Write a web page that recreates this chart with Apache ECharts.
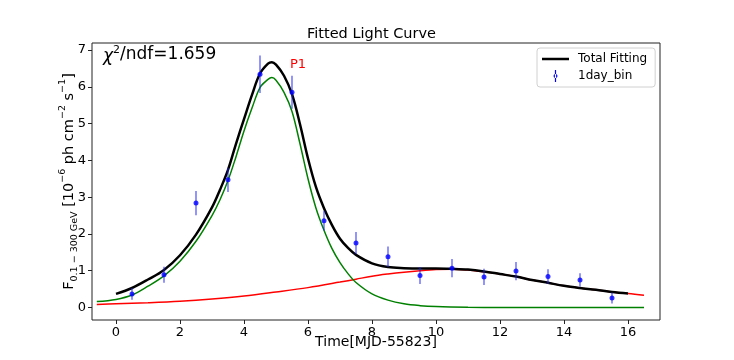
<!DOCTYPE html>
<html>
<head>
<meta charset="utf-8">
<script src="https://cdn.jsdelivr.net/npm/echarts@6/dist/echarts.min.js"></script>
<style>
  html, body { margin: 0; padding: 0; background: #fff; }
  #chart { width: 734px; height: 360px; }
</style>
</head>
<body>
<div id="chart"></div>
<script>
// 1-day binned flux points
const binTime = [0.5, 1.5, 2.5, 3.5, 4.5, 5.5, 6.5, 7.5, 8.5, 9.5, 10.5, 11.5, 12.5, 13.5, 14.5, 15.5]
const binFlux = [0.37, 0.89, 2.84, 3.47, 6.34, 5.85, 2.36, 1.75, 1.38, 0.87, 1.07, 0.83, 0.99, 0.84, 0.75, 0.26]
const binErr = [0.16, 0.22, 0.33, 0.33, 0.51, 0.45, 0.27, 0.30, 0.28, 0.23, 0.25, 0.22, 0.25, 0.20, 0.18, 0.15]

// total fitting (black)
const totalTime = [0, 0.5, 1, 1.5, 2, 2.5, 3, 3.25, 3.5, 3.75, 4, 4.25, 4.5, 4.75, 4.87, 5, 5.25, 5.5, 5.75, 6, 6.25, 6.5, 6.75, 7, 7.25, 7.5, 8, 8.5, 9, 9.5, 10, 10.5, 11, 11.5, 12, 12.5, 13, 13.5, 14, 14.5, 15, 15.5, 16]
const totalFlux = [0.37, 0.53, 0.76, 1.02, 1.42, 1.98, 2.72, 3.2, 3.74, 4.45, 5.12, 5.78, 6.36, 6.63, 6.67, 6.6, 6.3, 5.8, 4.98, 4.05, 3.27, 2.7, 2.24, 1.87, 1.62, 1.43, 1.2, 1.1, 1.07, 1.06, 1.06, 1.05, 1.03, 0.98, 0.91, 0.84, 0.75, 0.67, 0.59, 0.53, 0.48, 0.42, 0.38]

// flare component P1 (green)
const p1Time = [-0.6, 0, 0.5, 1, 1.5, 2, 2.5, 3, 3.25, 3.5, 3.75, 4, 4.25, 4.5, 4.75, 4.87, 5, 5.25, 5.5, 5.75, 6, 6.25, 6.5, 6.75, 7, 7.25, 7.5, 8, 8.5, 9, 9.5, 10, 11, 12, 13, 14, 15, 16, 16.5]
const p1Flux = [0.16, 0.22, 0.34, 0.58, 0.86, 1.26, 1.8, 2.5, 2.93, 3.45, 4.1, 4.8, 5.42, 5.98, 6.2, 6.25, 6.18, 5.85, 5.33, 4.45, 3.5, 2.7, 2.1, 1.6, 1.22, 0.92, 0.68, 0.37, 0.2, 0.1, 0.05, 0.025, 0.006, 0.001, 0, 0, 0, 0, 0]

// slow component (red)
const slowTime = [-0.6, 0, 1, 2, 3, 4, 5, 6, 7, 7.5, 8, 8.5, 9, 9.5, 10, 10.5, 11, 11.5, 12, 12.5, 13, 13.5, 14, 14.5, 15, 15.5, 16, 16.5]
const slowFlux = [0.08, 0.10, 0.13, 0.17, 0.23, 0.31, 0.42, 0.54, 0.69, 0.77, 0.85, 0.91, 0.96, 1.0, 1.03, 1.04, 1.02, 0.97, 0.91, 0.84, 0.75, 0.67, 0.59, 0.53, 0.48, 0.42, 0.38, 0.33]

const font = 'DejaVu Sans'
const pair = (xs, ys) => xs.map((x, i) => [x, ys[i]])

const chart = echarts.init(document.getElementById('chart'))
const option = {
  backgroundColor: '#fff',
  animation: false,
  title: {
    text: 'Fitted Light Curve',
    left: 307,
    top: 27,
    padding: 0,
    textStyle: { fontFamily: font, fontSize: 14.5, fontWeight: 'normal', color: '#000' }
  },
  legend: {
    orient: 'vertical',
    left: 537,
    top: 48,
    padding: [5, 8, 5, 5],
    itemGap: 5,
    itemWidth: 27,
    itemHeight: 12,
    backgroundColor: '#fff',
    borderColor: '#d0d0d0',
    borderWidth: 1,
    borderRadius: 3,
    textStyle: { fontFamily: font, fontSize: 12, color: '#000', padding: [0, 0, 0, 4] },
    data: [
      { name: 'Total Fitting', icon: 'path://M0,0 L27,0 L27,2.5 L0,2.5 Z', itemStyle: { color: '#000' } },
      { name: '1day_bin', icon: 'path://M2.4,0 L3.6,0 L3.6,12 L2.4,12 Z M3,4 A2,2 0 1 0 3,8 A2,2 0 1 0 3,4 Z', itemStyle: { color: '#0000ff' } }
    ]
  },
  grid: {
    left: 92, right: 74, top: 43, bottom: 40,
    show: true, borderColor: '#222', borderWidth: 1,
    outerBoundsMode: 'none'
  },
  xAxis: {
    type: 'value',
    min: -0.75,
    max: 17,
    splitNumber: 9,
    name: 'Time[MJD-55823]',
    nameLocation: 'middle',
    nameGap: 15,
    nameMoveOverlap: false,
    nameTextStyle: { fontFamily: font, fontSize: 14, color: '#000' },
    axisLine: { show: false, onZero: false },
    axisTick: { show: true, inside: false, length: 4, lineStyle: { color: '#222' } },
    axisLabel: { showMinLabel: false, showMaxLabel: false, fontFamily: font, fontSize: 13, color: '#000', margin: 6 },
    splitLine: { show: false }
  },
  yAxis: {
    type: 'value',
    min: -0.34,
    max: 7.19,
    splitNumber: 7,
    name: 'F{sub|0.1 − 300 GeV} [10{sup|−6} ph cm{sup|−2} s{sup|−1}]',
    nameLocation: 'middle',
    nameRotate: 90,
    nameGap: 12,
    nameMoveOverlap: false,
    nameTextStyle: {
      fontFamily: font, fontSize: 14.5, color: '#000', lineHeight: 22,
      rich: {
        sub: { fontFamily: font, fontSize: 9.5, color: '#000', verticalAlign: 'bottom', lineHeight: 12 },
        sup: { fontFamily: font, fontSize: 9.5, color: '#000', verticalAlign: 'top', lineHeight: 12 }
      }
    },
    axisLine: { show: false, onZero: false },
    axisTick: { show: true, inside: false, length: 4, lineStyle: { color: '#222' } },
    axisLabel: { showMinLabel: false, showMaxLabel: false, fontFamily: font, fontSize: 13, color: '#000', margin: 6 },
    splitLine: { show: false }
  },
  graphic: [
    {
      type: 'text',
      left: 103,
      top: 45,
      style: {
        text: '{chi|χ}{sup|2}/ndf=1.659',
        fontFamily: font, fontSize: 17, fill: '#000',
        rich: {
          chi: { fontFamily: font, fontSize: 17, fontStyle: 'italic', lineHeight: 20, verticalAlign: 'bottom' },
          sup: { fontFamily: font, fontSize: 11, verticalAlign: 'top', lineHeight: 20 }
        }
      }
    },
    {
      type: 'text',
      left: 290,
      top: 58,
      style: { text: 'P1', fontFamily: font, fontSize: 13, fill: '#ff0000' }
    }
  ],
  series: [
    {
      name: 'Slow',
      type: 'line',
      data: pair(slowTime, slowFlux),
      smooth: 0.35,
      showSymbol: false,
      symbol: 'none',
      lineStyle: { color: '#ff0000', width: 1.5 },
      z: 2
    },
    {
      name: 'P1 component',
      type: 'line',
      data: pair(p1Time, p1Flux),
      smooth: 0.35,
      showSymbol: false,
      symbol: 'none',
      lineStyle: { color: '#008000', width: 1.5 },
      z: 3
    },
    {
      name: 'Total Fitting',
      type: 'line',
      data: pair(totalTime, totalFlux),
      smooth: 0.35,
      showSymbol: false,
      symbol: 'none',
      color: '#000',
      lineStyle: { color: '#000', width: 2.5 },
      z: 4
    },
    {
      name: '1day_bin',
      type: 'custom',
      data: binTime.map((t, i) => [t, binFlux[i] - binErr[i], binFlux[i] + binErr[i]]),
      encode: { x: 0, y: [1, 2] },
      renderItem(params, api) {
        const lo = api.coord([api.value(0), api.value(1)])
        const hi = api.coord([api.value(0), api.value(2)])
        return {
          type: 'line',
          shape: { x1: lo[0], y1: lo[1], x2: hi[0], y2: hi[1] },
          style: { stroke: 'rgba(30,30,255,0.6)', lineWidth: 1.6 }
        }
      },
      color: '#0000ff',
      z: 5
    },
    {
      name: '1day_bin',
      type: 'scatter',
      data: pair(binTime, binFlux),
      symbol: 'circle',
      symbolSize: 5,
      itemStyle: { color: '#0000ff' },
      z: 6
    }
  ]
}
chart.setOption(option)
</script>
</body>
</html>
